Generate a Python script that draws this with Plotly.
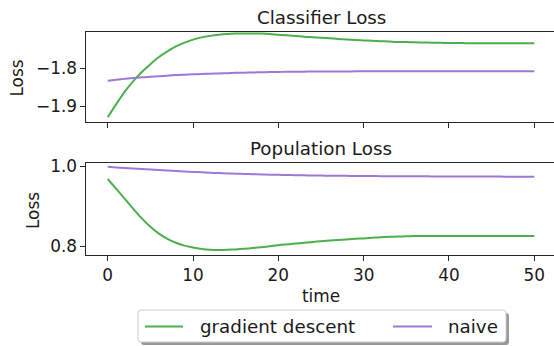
import plotly.graph_objects as go

# ---- data -------------------------------------------------------------
time = list(range(51))

series_names = ["gradient descent", "naive"]

classifier_gd = [
    -1.930, -1.895, -1.862, -1.834, -1.810, -1.789, -1.770, -1.755, -1.742, -1.732,
    -1.724, -1.718, -1.714, -1.711, -1.709, -1.708, -1.7075, -1.7075, -1.708, -1.709,
    -1.711, -1.7125, -1.714, -1.716, -1.7175, -1.719, -1.7205, -1.722, -1.7235, -1.725,
    -1.726, -1.727, -1.728, -1.729, -1.730, -1.7305, -1.731, -1.7315, -1.732, -1.7325,
    -1.733, -1.733, -1.7333, -1.7335, -1.7335, -1.7337, -1.7337, -1.7337, -1.7337, -1.7337,
    -1.7337,
]
classifier_naive = [
    -1.833, -1.8305, -1.828, -1.826, -1.824, -1.8225, -1.821, -1.8195, -1.818, -1.817,
    -1.816, -1.815, -1.8142, -1.8135, -1.8128, -1.8121, -1.8115, -1.811, -1.8105, -1.810,
    -1.8096, -1.8093, -1.809, -1.8088, -1.8086, -1.8085, -1.8084, -1.8083, -1.8082, -1.8081,
    -1.808, -1.808, -1.808, -1.808, -1.808, -1.808, -1.808, -1.808, -1.808, -1.808,
    -1.808, -1.808, -1.808, -1.808, -1.808, -1.808, -1.808, -1.808, -1.808, -1.808,
    -1.808,
]
population_gd = [
    0.9675, 0.943, 0.918, 0.893, 0.869, 0.848, 0.831, 0.818, 0.808, 0.801,
    0.796, 0.7925, 0.7905, 0.790, 0.7905, 0.7915, 0.793, 0.795, 0.797, 0.7995,
    0.802, 0.804, 0.806, 0.808, 0.810, 0.812, 0.8135, 0.815, 0.8165, 0.818,
    0.819, 0.8205, 0.822, 0.823, 0.8237, 0.8243, 0.8247, 0.825, 0.825, 0.825,
    0.825, 0.825, 0.825, 0.825, 0.825, 0.825, 0.825, 0.825, 0.825, 0.825,
    0.825,
]
population_naive = [
    0.998, 0.9966, 0.9952, 0.9938, 0.9925, 0.9912, 0.9899, 0.9887, 0.9875, 0.9864,
    0.9853, 0.9843, 0.9833, 0.9824, 0.9816, 0.9808, 0.9801, 0.9795, 0.9789, 0.9784,
    0.9779, 0.9775, 0.9771, 0.9767, 0.9764, 0.9761, 0.9758, 0.9756, 0.9754, 0.9752,
    0.975, 0.9748, 0.9747, 0.9746, 0.9745, 0.9744, 0.9743, 0.9742, 0.9741, 0.974,
    0.9739, 0.9738, 0.9737, 0.9736, 0.9736, 0.9735, 0.9735, 0.9734, 0.9734, 0.9733,
    0.9733,
]

x_ticks = [0, 10, 20, 30, 40, 50]
clf_ticks = [-1.9, -1.8]
clf_tick_text = ["\u22121.9", "\u22121.8"]
pop_ticks = [0.8, 1.0]
pop_tick_text = ["0.8", "1.0"]

panel_titles = ["Classifier Loss", "Population Loss"]
y_title = "Loss"
x_title = "time"

# ---- style ------------------------------------------------------------
W, H = 554, 346
GREEN = "#4daf4a"
PURPLE = "#9f77d6"
SPINE = "#262626"
TEXT = "#1a1a1a"
FONT = "DejaVu Sans"
TICK_SIZE = 16.9
BIG_SIZE = 18.3


def fx(px):
    return px / W


def fy(py):
    return 1 - py / H


fig = go.Figure()

for y_vals, name, color, ax in [
    (classifier_gd, series_names[0], GREEN, "y"),
    (classifier_naive, series_names[1], PURPLE, "y"),
    (population_gd, series_names[0], GREEN, "y2"),
    (population_naive, series_names[1], PURPLE, "y2"),
]:
    fig.add_trace(go.Scatter(
        x=time, y=y_vals, name=name, mode="lines",
        line=dict(color=color, width=2, shape="spline", smoothing=0.8),
        xaxis="x" if ax == "y" else "x2", yaxis=ax, showlegend=False,
    ))

x_common = dict(
    range=[-2.497, 52.31], tickvals=x_ticks, ticks="outside", ticklen=5,
    tickwidth=1, tickcolor=SPINE, showline=True, linecolor=SPINE, linewidth=1,
    mirror=True, showgrid=False, zeroline=False, automargin=False,
    tickfont=dict(family=FONT, size=TICK_SIZE, color=TEXT),
    domain=[fx(86.4), 1.0],
)
y_common = dict(
    ticks="outside", ticklen=5, tickwidth=1, tickcolor=SPINE, showline=True,
    linecolor=SPINE, linewidth=1, showgrid=False, zeroline=False,
    automargin=False, tickfont=dict(family=FONT, size=TICK_SIZE, color=TEXT),
)

fig.update_layout(
    width=W, height=H,
    margin=dict(l=0, r=0, t=0, b=0),
    paper_bgcolor="white", plot_bgcolor="white",
    font=dict(family=FONT, color=TEXT),
    xaxis=dict(**x_common, anchor="y", showticklabels=False),
    yaxis=dict(**y_common, domain=[fy(122), fy(32)], range=[-1.9424, -1.7037],
               tickvals=clf_ticks, ticktext=clf_tick_text, anchor="x"),
    xaxis2=dict(**x_common, anchor="y2", matches="x"),
    yaxis2=dict(**y_common, domain=[fy(255), fy(163.3)], range=[0.7775, 1.0068],
                tickvals=pop_ticks, ticktext=pop_tick_text, anchor="x2"),
)

annotations = [
    dict(text=panel_titles[0], x=fx(321), y=fy(17), size=BIG_SIZE),
    dict(text=panel_titles[1], x=fx(321), y=fy(148), size=BIG_SIZE),
    dict(text=x_title, x=fx(321), y=fy(296), size=TICK_SIZE),
    dict(text=y_title, x=fx(16.5), y=fy(78), size=TICK_SIZE, angle=-90),
    dict(text=y_title, x=fx(33), y=fy(211), size=TICK_SIZE, angle=-90),
]
for a in annotations:
    fig.add_annotation(
        text=a["text"], x=a["x"], y=a["y"], xref="paper", yref="paper",
        xanchor="center", yanchor="middle", showarrow=False,
        textangle=a.get("angle", 0),
        font=dict(family=FONT, size=a["size"], color=TEXT),
    )


def rounded_rect(x0, y0, x1, y1, r):
    # path in paper coordinates for a rounded rectangle given in pixels
    pts = [
        f"M {fx(x0 + r)} {fy(y0)}",
        f"L {fx(x1 - r)} {fy(y0)}",
        f"Q {fx(x1)} {fy(y0)} {fx(x1)} {fy(y0 + r)}",
        f"L {fx(x1)} {fy(y1 - r)}",
        f"Q {fx(x1)} {fy(y1)} {fx(x1 - r)} {fy(y1)}",
        f"L {fx(x0 + r)} {fy(y1)}",
        f"Q {fx(x0)} {fy(y1)} {fx(x0)} {fy(y1 - r)}",
        f"L {fx(x0)} {fy(y0 + r)}",
        f"Q {fx(x0)} {fy(y0)} {fx(x0 + r)} {fy(y0)}",
        "Z",
    ]
    return " ".join(pts)


# legend box with drop shadow
fig.add_shape(type="path", path=rounded_rect(141, 313, 509, 345, 3),
              xref="paper", yref="paper", fillcolor="#9a9a9a",
              line=dict(width=0), layer="above")
fig.add_shape(type="path", path=rounded_rect(138, 310, 506, 342, 3),
              xref="paper", yref="paper", fillcolor="white",
              line=dict(color="#cccccc", width=1), layer="above")

legend_items = [
    (series_names[0], GREEN, 145, 183, 198),
    (series_names[1], PURPLE, 393, 432, 446),
]
for name, color, lx0, lx1, tx in legend_items:
    fig.add_shape(type="line", x0=fx(lx0), x1=fx(lx1), y0=fy(326.5), y1=fy(326.5),
                  xref="paper", yref="paper", line=dict(color=color, width=2),
                  layer="above")
    fig.add_annotation(
        text=name, x=fx(tx), y=fy(326), xref="paper", yref="paper",
        xanchor="left", yanchor="middle", showarrow=False,
        font=dict(family=FONT, size=BIG_SIZE, color=TEXT),
    )

fig.write_html("out.html")
